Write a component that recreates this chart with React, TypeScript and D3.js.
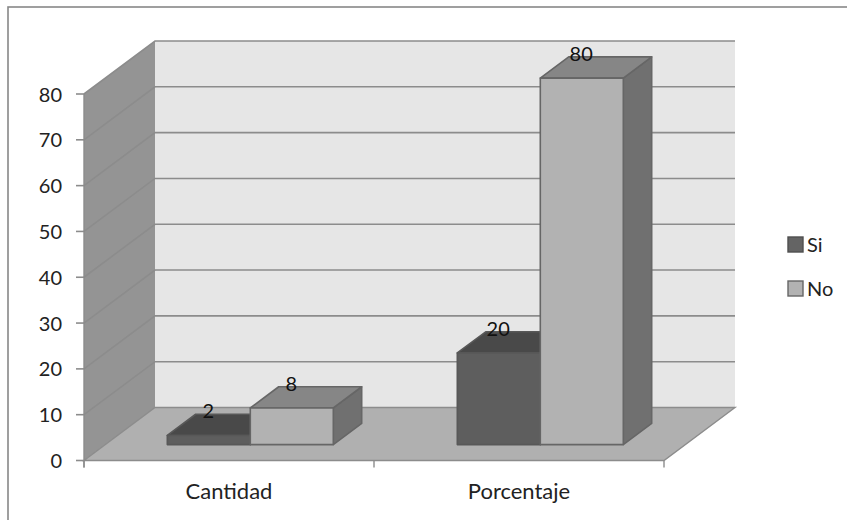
import React from "react";
import * as d3 from "d3";

// Chart values
const categories = ["Cantidad", "Porcentaje"];
const seriesNames = ["Si", "No"];
const siValues = [2, 20];
const noValues = [8, 80];
const yTicks = [0, 10, 20, 30, 40, 50, 60, 70, 80];

const FONT = "Lato, 'Open Sans', sans-serif";
const GRID = "#8c8c8c";

// Oblique projection: depth 0 is the front of the floor, depth 1 the back wall
const DEPTH_X = 71;
const DEPTH_Y = -53;
const x0 = d3.scaleBand<string>().domain(categories).range([84, 664]);
const y = d3.scaleLinear().domain([0, 80]).range([460.5, 94]);
const project = (px: number, v: number, depth: number): [number, number] => [
  px + depth * DEPTH_X,
  y(v) + depth * DEPTH_Y,
];
const poly = (pts: [number, number][]) => d3.line()(pts)! + "Z";

const BAR_DEPTH_START = 0.3;
const BAR_DEPTH_END = 0.7;
const BAR_WIDTH = 83;

const seriesStyles = [
  { front: "#5e5e5e", top: "#494949", side: "#4e4e4e", stroke: "#585858", legend: "#646464", legendStroke: "#4f4f4f" },
  { front: "#b2b2b2", top: "#868686", side: "#707070", stroke: "#666666", legend: "#b2b2b2", legendStroke: "#666666" },
];

function Bar({ cat, series, value }: { cat: string; series: number; value: number }) {
  const c = x0(cat)! + x0.bandwidth() / 2;
  const xL = c + (series - 1) * BAR_WIDTH;
  const xR = xL + BAR_WIDTH;
  const d0 = BAR_DEPTH_START;
  const d1 = BAR_DEPTH_END;
  const s = seriesStyles[series];
  const common = { stroke: s.stroke, strokeWidth: 1.6, strokeLinejoin: "round" as const };
  const labelPos = project((xL + xR) / 2, value, d1);
  return (
    <g>
      <path
        d={poly([project(xR, 0, d0), project(xR, 0, d1), project(xR, value, d1), project(xR, value, d0)])}
        fill={s.side}
        {...common}
      />
      <path
        d={poly([project(xL, value, d0), project(xL, value, d1), project(xR, value, d1), project(xR, value, d0)])}
        fill={s.top}
        {...common}
      />
      <path
        d={poly([project(xL, 0, d0), project(xR, 0, d0), project(xR, value, d0), project(xL, value, d0)])}
        fill={s.front}
        {...common}
      />
      <text
        x={labelPos[0] - 29}
        y={labelPos[1] + 4}
        textAnchor="middle"
        fontFamily={FONT}
        fontSize={20}
        fill="#111"
      >
        {value}
      </text>
    </g>
  );
}

export default function App() {
  const [xMin, xMax] = x0.range();
  const barOrder = categories.flatMap((cat, i) => [
    { cat, series: 0, value: siValues[i] },
    { cat, series: 1, value: noValues[i] },
  ]);
  return (
    <svg width={847} height={520} style={{ position: "absolute", left: 0, top: 0, background: "#fff" }}>
      {/* Chart frame */}
      <rect x={8} y={7} width={860} height={520} fill="#fff" stroke="#888" strokeWidth={1.6} />

      {/* Walls and floor */}
      <path
        d={poly([project(xMin, 0, 1), project(xMax, 0, 1), project(xMax, 80, 1), project(xMin, 80, 1)])}
        fill="#e6e6e6"
      />
      <path
        d={poly([project(xMin, 0, 0), project(xMin, 0, 1), project(xMin, 80, 1), project(xMin, 80, 0)])}
        fill="#949494"
      />
      <path
        d={poly([project(xMin, 0, 0), project(xMax, 0, 0), project(xMax, 0, 1), project(xMin, 0, 1)])}
        fill="#b0b0b0"
        stroke={GRID}
        strokeWidth={1.4}
      />

      {/* Gridlines run along the side wall and across the back wall */}
      {yTicks.slice(1).map((t) => {
        const a = project(xMin, t, 0);
        const b = project(xMin, t, 1);
        const e = project(xMax, t, 1);
        return <path key={t} d={d3.line()([a, b, e])!} fill="none" stroke={GRID} strokeWidth={1.6} />;
      })}

      {/* Value axis */}
      <line x1={xMin} x2={xMin} y1={y(80)} y2={y(0) + 7} stroke={GRID} strokeWidth={1.4} />
      {yTicks.map((t) => (
        <g key={t}>
          <line x1={xMin - 8} x2={xMin} y1={y(t)} y2={y(t)} stroke={GRID} strokeWidth={1.6} />
          <text x={62} y={y(t) + 7.5} textAnchor="end" fontFamily={FONT} fontSize={20} fill="#222">
            {t}
          </text>
        </g>
      ))}

      {/* Category axis */}
      {[xMin, x0(categories[1])!, xMax].map((tx) => (
        <line key={tx} x1={tx} x2={tx} y1={y(0)} y2={y(0) + 7} stroke={GRID} strokeWidth={1.4} />
      ))}
      {categories.map((cat) => (
        <text
          key={cat}
          x={x0(cat)! + x0.bandwidth() / 2}
          y={499}
          textAnchor="middle"
          fontFamily={FONT}
          fontSize={22}
          fill="#222"
        >
          {cat}
        </text>
      ))}

      {/* Bars */}
      {barOrder.map((b) => (
        <Bar key={b.cat + b.series} {...b} />
      ))}

      {/* Legend */}
      {seriesNames.map((name, i) => (
        <g key={name} transform={`translate(788, ${237 + i * 44})`}>
          <rect
            width={15}
            height={15}
            fill={seriesStyles[i].legend}
            stroke={seriesStyles[i].legendStroke}
            strokeWidth={1.4}
          />
          <text x={19} y={14.5} fontFamily={FONT} fontSize={20} fill="#222">
            {name}
          </text>
        </g>
      ))}
    </svg>
  );
}
